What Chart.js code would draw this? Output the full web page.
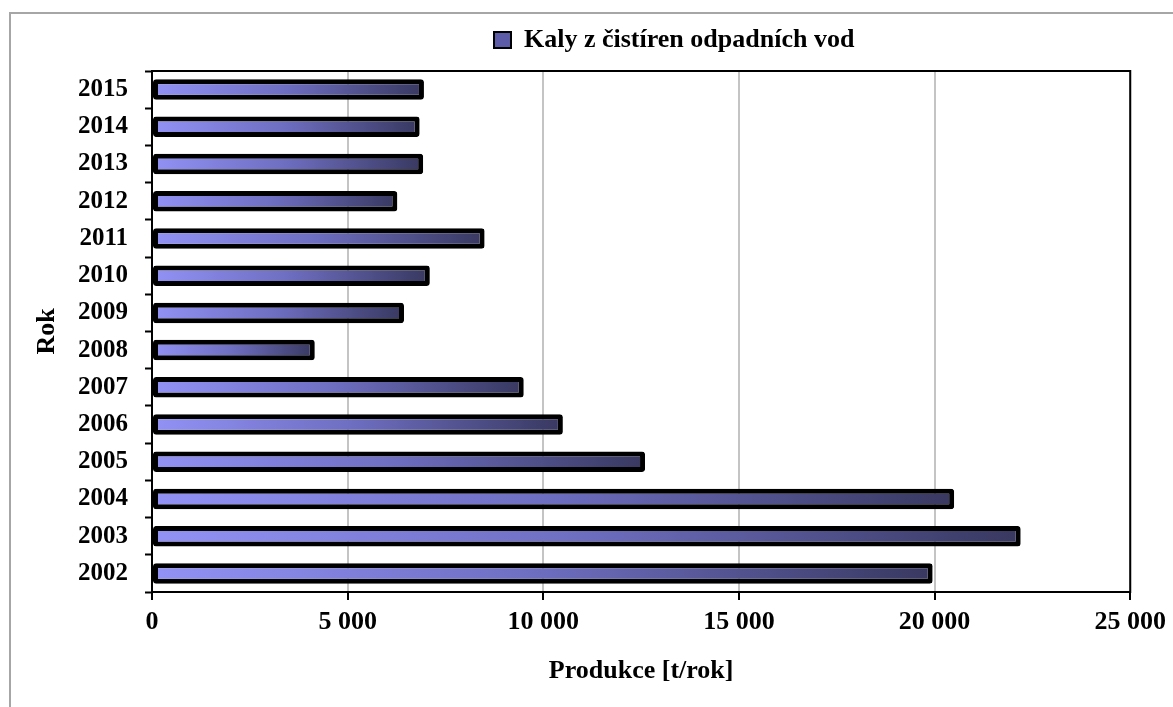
<!DOCTYPE html>
<html>
<head>
<meta charset="utf-8">
<script src="https://cdn.jsdelivr.net/npm/chart.js@4/dist/chart.umd.min.js"></script>
<style>
  html, body { margin: 0; padding: 0; background: #fff; overflow: hidden; }
  #wrap { position: relative; width: 1173px; height: 707px; }
  #frame { position: absolute; left: 9px; top: 12px; width: 1300px; height: 800px; border: 2px solid #a6a6a6; }
  #chart { position: absolute; left: 0; top: 0; }
</style>
</head>
<body>
<div id="wrap">
  <div id="frame"></div>
  <canvas id="chart" width="1173" height="707"></canvas>
</div>
<script>
const years = ['2002', '2003', '2004', '2005', '2006', '2007', '2008', '2009', '2010', '2011', '2012', '2013', '2014', '2015'];
const sludge = [19950, 22200, 20500, 12600, 10500, 9500, 4160, 6440, 7100, 8500, 6270, 6930, 6840, 6950];
const xTicks = [0, 5000, 10000, 15000, 20000, 25000];
const seriesName = 'Kaly z čistíren odpadních vod';
const xTitle = 'Produkce [t/rok]';
const yTitle = 'Rok';

const serif = "'Liberation Serif', 'Times New Roman', serif";
const bold25 = { family: serif, size: 25, weight: 'bold' };
const bold26 = { family: serif, size: 26, weight: 'bold' };

function fmt(v) {
  return String(v).replace(/\B(?=(\d{3})+(?!\d))/g, ' ');
}

function barFill(c) {
  const chart = c.chart;
  if (!chart.chartArea || c.type !== 'data') return '#6868b8';
  const x = chart.scales.x;
  const x0 = x.getPixelForValue(0);
  const x1 = x.getPixelForValue(c.parsed.x);
  const g = chart.ctx.createLinearGradient(x0, 0, x1, 0);
  g.addColorStop(0, '#9292f6');
  g.addColorStop(0.5, '#6d6dc0');
  g.addColorStop(1, '#383860');
  return g;
}

// black frame round the plot area
const plotFrame = {
  id: 'plotFrame',
  afterDraw(chart) {
    const { ctx, chartArea: a } = chart;
    ctx.save();
    ctx.strokeStyle = '#000';
    ctx.lineWidth = 2;
    ctx.strokeRect(a.left, a.top, a.right - a.left, a.bottom - a.top);
    ctx.restore();
  }
};

// put the legend where the original has it
const legendPlace = {
  id: 'legendPlace',
  afterLayout(chart) {
    const lg = chart.legend;
    if (!lg) return;
    lg.left = 484;
    lg.top -= 8;
    lg.bottom -= 8;
  }
};

new Chart(document.getElementById('chart'), {
  type: 'bar',
  data: {
    labels: years,
    datasets: [{
      label: seriesName,
      data: sludge,
      backgroundColor: barFill,
      borderColor: '#000',
      borderWidth: 5,
      borderRadius: 3,
      borderSkipped: false,
      categoryPercentage: 1,
      barPercentage: 0.55
    }]
  },
  options: {
    indexAxis: 'y',
    responsive: false,
    animation: false,
    layout: { padding: { left: 0, right: 42, top: 25, bottom: 0 } },
    plugins: {
      tooltip: { enabled: false },
      legend: {
        position: 'top',
        align: 'start',
        labels: {
          font: bold26,
          color: '#000',
          padding: 10,
          boxWidth: 17,
          boxHeight: 16,
          generateLabels: () => [{
            text: seriesName,
            fillStyle: '#5c5ca8',
            strokeStyle: '#000',
            lineWidth: 2,
            datasetIndex: 0
          }]
        }
      }
    },
    scales: {
      x: {
        min: 0,
        max: 25000,
        afterBuildTicks: s => { s.ticks = xTicks.map(v => ({ value: v })); },
        afterFit: s => { s.height = 115; },
        ticks: { font: bold26, color: '#000', padding: 7, callback: v => fmt(v) },
        grid: { color: '#c4c4c4', lineWidth: 2, tickColor: '#000', tickWidth: 2, tickLength: 8 },
        border: { color: '#000', width: 2 },
        title: { display: true, text: xTitle, font: bold26, color: '#000', padding: { top: 0, bottom: 20 } }
      },
      y: {
        reverse: true,
        afterFit: s => { s.width = 152; },
        ticks: { font: bold25, color: '#000', padding: 17 },
        grid: { drawOnChartArea: false, offset: true, tickColor: '#000', tickWidth: 2, tickLength: 7 },
        border: { color: '#000', width: 2 },
        title: { display: true, text: yTitle, font: bold26, color: '#000', padding: { top: 32, bottom: 0 } }
      }
    }
  },
  plugins: [plotFrame, legendPlace]
});
</script>
</body>
</html>
